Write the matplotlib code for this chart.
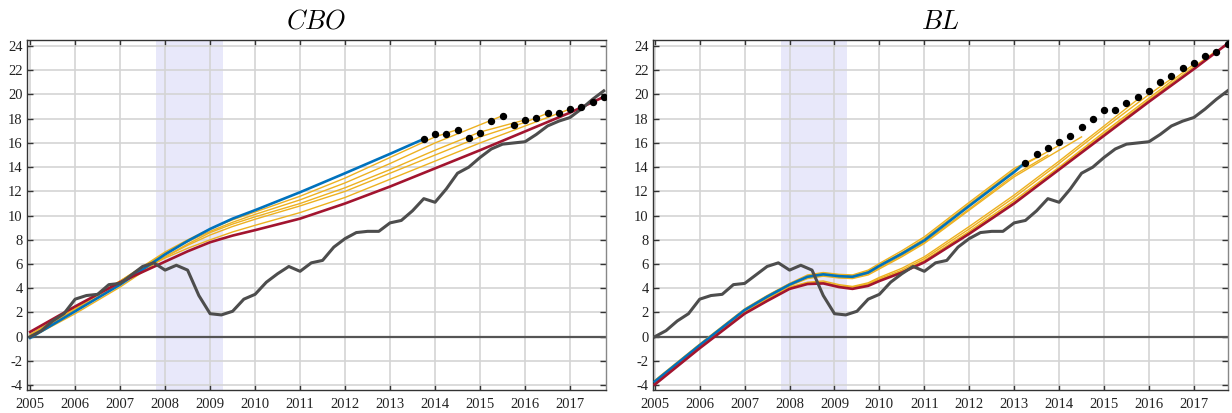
import matplotlib
matplotlib.use("Agg")
import matplotlib.pyplot as plt

plt.rcParams['mathtext.fontset'] = 'cm'
plt.rcParams['font.family'] = ['Liberation Serif', 'DejaVu Serif']

# ---------------- data ----------------
# quarterly actual series (dark line), 2005Q1..2017Q4
q_times = [2005 + 0.25 * i for i in range(52)]
actual = [0.0, 0.5, 1.3, 1.9, 3.1, 3.4, 3.5, 4.3, 4.4, 5.1, 5.8, 6.1,
          5.5, 5.9, 5.5, 3.4, 1.9, 1.8, 2.1, 3.1, 3.5, 4.5, 5.2, 5.8,
          5.4, 6.1, 6.3, 7.4, 8.1, 8.6, 8.7, 8.7, 9.4, 9.6, 10.4, 11.4,
          11.1, 12.2, 13.5, 14.0, 14.8, 15.5, 15.9, 16.0, 16.1, 16.7, 17.4, 17.8,
          18.1, 18.8, 19.6, 20.3]

# CBO panel
cbo_dot_t = [2013.75 + 0.25 * i for i in range(17)]
cbo_dots = [16.33, 16.7, 16.7, 17.1, 16.4, 16.85, 17.8, 18.25, 17.5, 17.9,
            18.1, 18.45, 18.45, 18.8, 19.0, 19.4, 19.8]

cbo_t = [2005, 2006, 2007, 2008, 2008.5, 2009, 2009.5, 2010, 2011, 2012, 2013]
cbo_blue_t = cbo_t + [2013.75]
cbo_blue = [-0.1, 2.1, 4.3, 6.8, 7.9, 8.9, 9.75, 10.45, 11.93, 13.5, 15.1, 16.33]
cbo_red_t = cbo_t + [2014, 2015, 2016, 2017, 2017.75]
cbo_red = [0.4, 2.5, 4.5, 6.2, 7.05, 7.8, 8.35, 8.8, 9.75, 11.0, 12.4,
           13.9, 15.4, 16.95, 18.5, 19.8]

cbo_or1_t = cbo_t + [2014, 2014.5]
cbo_or1 = [0.0, 2.3, 4.6, 7.0, 8.0, 8.9, 9.65, 10.3, 11.6, 13.1, 14.8, 16.5, 17.1]
cbo_or2_t = cbo_t + [2014, 2015, 2015.5]
cbo_or2 = [0.1, 2.3, 4.6, 6.9, 7.85, 8.7, 9.45, 10.1, 11.3, 12.7, 14.3, 16.0, 17.5, 18.25]
cbo_or3_t = cbo_t + [2014, 2015, 2016]
cbo_or3 = [-0.1, 1.9, 4.1, 6.6, 7.65, 8.6, 9.3, 9.9, 11.0, 12.3, 13.8, 15.4, 16.9, 17.9]
cbo_or4_t = cbo_t + [2014, 2015, 2016, 2016.5]
cbo_or4 = [0.0, 2.2, 4.4, 6.6, 7.55, 8.4, 9.1, 9.7, 10.8, 12.0, 13.5, 15.0, 16.5, 17.7, 18.45]
cbo_or5_t = cbo_t + [2014, 2015, 2016, 2017]
cbo_or5 = [0.2, 2.4, 4.6, 6.5, 7.3, 8.0, 8.65, 9.2, 10.25, 11.5, 13.0, 14.5, 16.0, 17.4, 18.8]

# BL panel
bl_dot_t = [2013.25 + 0.25 * i for i in range(19)]
bl_dots = [14.38, 15.1, 15.6, 16.1, 16.6, 17.35, 18.0, 18.7, 18.7, 19.3,
           19.8, 20.3, 21.0, 21.5, 22.2, 22.6, 23.2, 23.5, 24.2]

bl_t = [2005, 2006, 2007, 2007.5, 2008, 2008.4, 2008.75, 2009.1, 2009.4,
        2009.75, 2010, 2010.5, 2011, 2012, 2013]
bl_blue_t = bl_t + [2013.25]
bl_blue = [-3.7, -0.7, 2.2, 3.3, 4.3, 4.95, 5.15, 5.0, 4.95, 5.3, 5.85, 6.85, 7.95, 10.8, 13.6, 14.38]
bl_red_t = bl_t + [2014, 2015, 2016, 2017, 2017.75]
bl_red = [-3.95, -0.95, 1.9, 2.95, 3.95, 4.35, 4.4, 4.1, 3.95, 4.2, 4.6, 5.3, 6.15, 8.5, 11.0,
          13.8, 16.6, 19.4, 22.1, 24.2]

bl_up1_t = bl_t + [2013.5]
bl_up1 = [-3.6, -0.6, 2.3, 3.4, 4.4, 5.1, 5.3, 5.15, 5.1, 5.5, 6.05, 7.1, 8.25, 11.1, 13.9, 14.8]
bl_up2_t = bl_t + [2013.75]
bl_up2 = [-3.75, -0.75, 2.15, 3.25, 4.25, 4.85, 5.05, 4.9, 4.85, 5.2, 5.7, 6.7, 7.8, 10.55, 13.35, 15.0]
bl_up3_t = bl_t + [2014.0]
bl_up3 = [-3.65, -0.65, 2.25, 3.35, 4.35, 5.0, 5.25, 5.1, 5.05, 5.4, 5.95, 6.95, 8.1, 10.95, 13.75, 15.8]
bl_up4_t = bl_t + [2014.5]
bl_up4 = [-3.8, -0.8, 2.1, 3.2, 4.2, 4.8, 5.0, 4.85, 4.8, 5.1, 5.6, 6.6, 7.7, 10.45, 13.2, 16.5]

bl_lo1_t = bl_t + [2014, 2015, 2015.75]
bl_lo1 = [-3.8, -0.8, 2.05, 3.1, 4.1, 4.5, 4.6, 4.3, 4.15, 4.45, 4.9, 5.65, 6.6, 9.1, 11.7,
          14.5, 17.4, 19.6]
bl_lo2_t = bl_t + [2014, 2015, 2016, 2016.5]
bl_lo2 = [-3.85, -0.85, 2.0, 3.05, 4.05, 4.45, 4.5, 4.2, 4.1, 4.35, 4.8, 5.5, 6.45, 8.9, 11.5,
          14.3, 17.2, 20.0, 21.3]
bl_lo3_t = bl_t + [2014, 2015, 2016, 2017]
bl_lo3 = [-3.9, -0.9, 1.95, 3.0, 4.0, 4.4, 4.45, 4.15, 4.0, 4.3, 4.7, 5.4, 6.3, 8.7, 11.25,
          14.0, 16.9, 19.7, 22.5]
bl_lo4_t = bl_t + [2014, 2015, 2016, 2017, 2017.5]
bl_lo4 = [-3.92, -0.92, 1.92, 2.97, 3.97, 4.37, 4.42, 4.12, 3.97, 4.25, 4.65, 5.35, 6.2, 8.6, 11.1,
          13.9, 16.75, 19.55, 22.3, 23.6]

recession = (2007.8, 2009.28)
years = list(range(2005, 2018))
yticks = list(range(-4, 25, 2))

# ---------------- colours ----------------
C_BLUE = '#0072BD'
C_RED = '#A2142F'
C_ORANGE = '#EDB120'
C_DARK = '#4D4D4D'

fig = plt.figure(figsize=(12.32, 4.13), dpi=100)
ax1 = fig.add_axes([27 / 1232, 1 - 390 / 413, 579 / 1232, 350 / 413])
ax2 = fig.add_axes([653 / 1232, 1 - 390 / 413, 575 / 1232, 350 / 413])


def style(ax, xlim, title):
    ax.set_xlim(*xlim)
    ax.set_ylim(-4.4, 24.5)
    ax.set_axisbelow(True)
    ax.axvspan(recession[0], recession[1], color='#E8E8FA', lw=0, zorder=0)
    ax.grid(True, color='#d4d4d4', lw=1.2)
    ax.axhline(0, color='#555555', lw=1.6, zorder=1)
    ax.set_xticks(years)
    ax.set_yticks(yticks)
    ax.set_yticklabels([str(v) for v in yticks])
    ax.tick_params(direction='in', top=True, bottom=True, left=True, right=True,
                   length=4, width=1.0, color='#333333', labelsize=10.5,
                   labelcolor='#222222', pad=3)
    ax.tick_params(axis='x', pad=6)
    for s in ['top', 'left', 'bottom']:
        ax.spines[s].set_color('#333333')
        ax.spines[s].set_linewidth(1.0)
    ax.spines['right'].set_color('#888888')
    ax.spines['right'].set_linewidth(1.0)
    ax.set_title('$' + title + '$', fontsize=19, pad=8)


style(ax1, (2004.93, 2017.8), 'CBO')
style(ax2, (2004.96, 2017.76), 'BL')

# CBO panel lines
for t, v in [(cbo_or1_t, cbo_or1), (cbo_or2_t, cbo_or2), (cbo_or3_t, cbo_or3),
             (cbo_or4_t, cbo_or4), (cbo_or5_t, cbo_or5)]:
    ax1.plot(t, v, color=C_ORANGE, lw=1.0, zorder=2)
ax1.plot(cbo_blue_t, cbo_blue, color=C_BLUE, lw=1.9, zorder=3)
ax1.plot(cbo_red_t, cbo_red, color=C_RED, lw=1.9, zorder=3)
ax1.plot(q_times, actual, color=C_DARK, lw=2.2, zorder=4)
ax1.plot(cbo_dot_t, cbo_dots, 'o', color='black', ms=4.3, zorder=5)

# BL panel lines
for t, v in [(bl_up1_t, bl_up1), (bl_up2_t, bl_up2), (bl_up3_t, bl_up3), (bl_up4_t, bl_up4),
             (bl_lo1_t, bl_lo1), (bl_lo2_t, bl_lo2), (bl_lo3_t, bl_lo3), (bl_lo4_t, bl_lo4)]:
    ax2.plot(t, v, color=C_ORANGE, lw=1.0, zorder=2)
ax2.plot(bl_blue_t, bl_blue, color=C_BLUE, lw=1.9, zorder=3)
ax2.plot(bl_red_t, bl_red, color=C_RED, lw=1.9, zorder=3)
ax2.plot(q_times, actual, color=C_DARK, lw=2.2, zorder=4)
ax2.plot(bl_dot_t, bl_dots, 'o', color='black', ms=4.3, zorder=5)

fig.savefig('out.png', dpi=100)
